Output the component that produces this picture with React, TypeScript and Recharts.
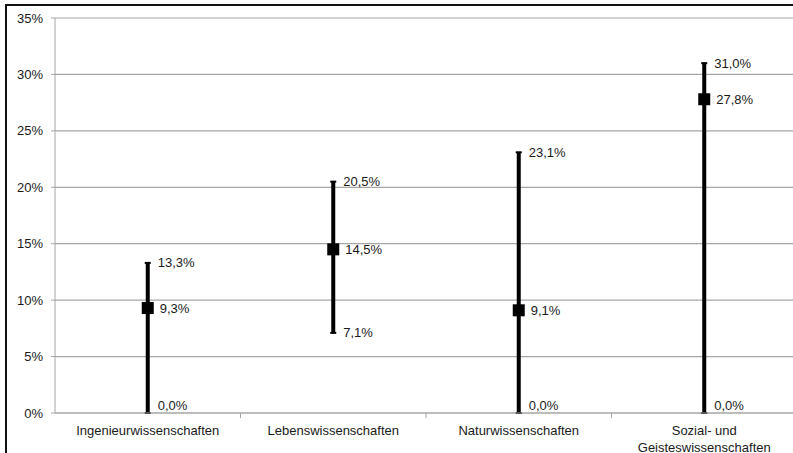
import React from "react";
import {
  ComposedChart,
  Line,
  XAxis,
  YAxis,
  CartesianGrid,
  ErrorBar,
  LabelList,
} from "recharts";

const categories = [
  "Ingenieurwissenschaften",
  "Lebenswissenschaften",
  "Naturwissenschaften",
  "Sozial- und Geisteswissenschaften",
];
const meanValues = [9.3, 14.5, 9.1, 27.8];
const lowValues = [0.0, 7.1, 0.0, 0.0];
const highValues = [13.3, 20.5, 23.1, 31.0];
const yTicks = [0, 5, 10, 15, 20, 25, 30, 35];

const data = categories.map((name, i) => ({
  name,
  mean: meanValues[i],
  low: lowValues[i],
  high: highValues[i],
  err: [meanValues[i] - lowValues[i], highValues[i] - meanValues[i]],
}));

const FONT = "'Liberation Sans', Arial, sans-serif";
const TEXT = "#1a1a1a";
const GRAY = "#a6a6a6";
const BAND = 185.5;

const fmt = (v: number) => v.toFixed(1).replace(".", ",") + "%";

function SquareDot(props: any) {
  const { cx, cy } = props;
  if (cx == null || cy == null) return null;
  return <rect x={cx - 6} y={cy - 6} width={12} height={12} fill="#000" />;
}

function makeLabel(offsetX: number, kind: string) {
  return (props: any) => {
    const { x, y, value } = props;
    const dy = kind === "low" && value === 0 ? -8 : 0;
    return (
      <text
        x={x + offsetX}
        y={y + dy}
        dy={4.5}
        fontSize={13}
        fontFamily={FONT}
        fill={TEXT}
      >
        {fmt(value)}
      </text>
    );
  };
}

function CategoryTick(props: any) {
  const { x, y, payload } = props;
  const value: string = payload.value;
  let lines = [value];
  if (value.length > 24) {
    const idx = value.indexOf(" ", value.indexOf("und"));
    lines = [value.slice(0, idx), value.slice(idx + 1)];
  }
  return (
    <g>
      {payload.index > 0 && (
        <line x1={x - BAND / 2} x2={x - BAND / 2} y1={y - 8} y2={y - 3} stroke={GRAY} />
      )}
      <text
        x={x}
        y={y + 14}
        textAnchor="middle"
        fontSize={13}
        fontFamily={FONT}
        fill={TEXT}
      >
        {lines.map((l, i) => (
          <tspan key={i} x={x} dy={i === 0 ? 0 : 17}>
            {l}
          </tspan>
        ))}
      </text>
    </g>
  );
}

export default function App() {
  return (
    <div
      style={{
        position: "fixed",
        left: 0,
        top: 0,
        width: 793,
        height: 453,
        overflow: "hidden",
        background: "#fff",
        fontFamily: FONT,
      }}
    >
      <div
        style={{
          position: "absolute",
          left: 5,
          top: 4,
          width: 820,
          height: 480,
          border: "2px solid #111",
        }}
      />
      <div style={{ position: "absolute", left: 0, top: 0 }}>
        <ComposedChart
          width={800}
          height={453}
          data={data}
          margin={{ top: 18, right: 3, bottom: 0, left: 0 }}
        >
          <CartesianGrid vertical={false} stroke={GRAY} strokeWidth={1.2} />
          <XAxis
            dataKey="name"
            height={40}
            stroke={GRAY}
            tickLine={false}
            tick={<CategoryTick />}
            interval={0}
            padding={{ left: BAND / 2, right: BAND / 2 }}
          />
          <YAxis
            width={55}
            domain={[0, 35]}
            ticks={yTicks}
            tickFormatter={(v) => `${v}%`}
            stroke={GRAY}
            tickSize={4}
            tickMargin={8}
            tick={{ fontSize: 13, fontFamily: FONT, fill: TEXT }}
            interval={0}
          />
          <Line
            dataKey="high"
            stroke="none"
            dot={false}
            isAnimationActive={false}
          >
            <LabelList dataKey="high" content={makeLabel(10, "high")} />
          </Line>
          <Line
            dataKey="low"
            stroke="none"
            dot={false}
            isAnimationActive={false}
          >
            <LabelList dataKey="low" content={makeLabel(10, "low")} />
          </Line>
          <Line
            dataKey="mean"
            stroke="none"
            dot={<SquareDot />}
            isAnimationActive={false}
          >
            <ErrorBar dataKey="err" width={0} strokeWidth={4} stroke="#000" direction="y" />
            <ErrorBar dataKey="err" width={3} strokeWidth={2} stroke="#000" direction="y" />
            <LabelList dataKey="mean" content={makeLabel(12, "mean")} />
          </Line>
        </ComposedChart>
      </div>
    </div>
  );
}
